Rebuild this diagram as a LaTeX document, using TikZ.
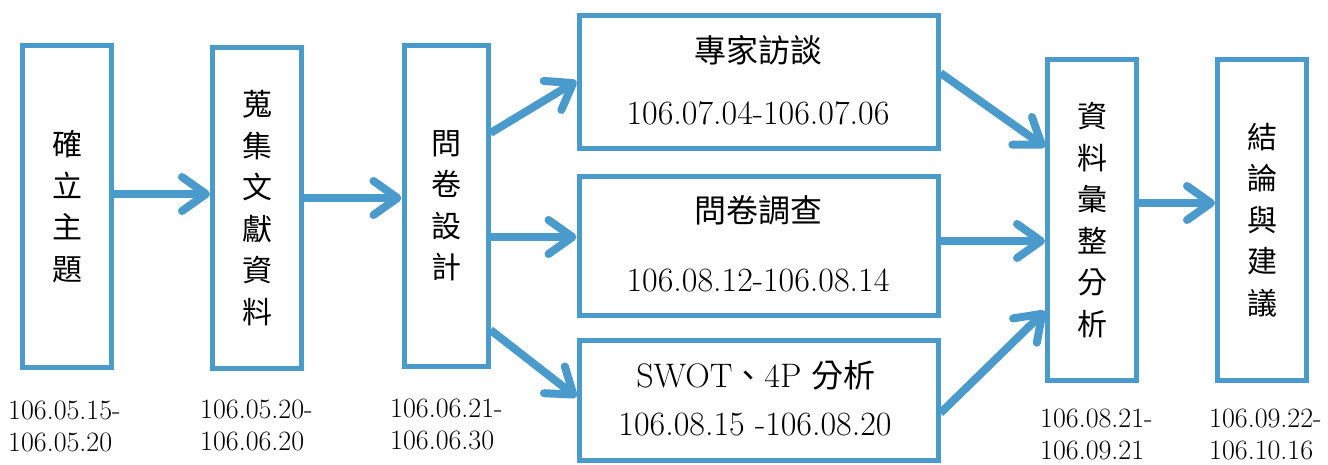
\documentclass[tikz,border=0pt]{standalone}
\usepackage{fontspec}
\newfontfamily\cjk{Noto Sans CJK TC}
\usetikzlibrary{arrows.meta}
\definecolor{flowblue}{HTML}{4A9BCB}
\begin{document}
\begin{tikzpicture}[x=1pt,y=-1pt,
  vbox/.style={draw=flowblue, line width=5pt, fill=white, inner sep=0pt, align=center,
    minimum width=89pt, minimum height=321.5pt, font=\cjk\fontsize{30}{41.5}\selectfont},
  hbox/.style={draw=flowblue, line width=5pt, inner sep=0pt, minimum width=359pt},
  flow/.style={draw=flowblue, line width=8pt, -{Straight Barb[length=24pt,width=34pt,round]}},
  boxtitle/.style={font=\cjk\fontsize{32}{36}\selectfont, inner sep=0pt},
  boxdate/.style={font=\rmfamily\fontsize{34}{38}\selectfont, inner sep=0pt},
  periodlabel/.style={font=\rmfamily\fontsize{28}{32}\selectfont, align=left, anchor=west, inner sep=0pt}]
\useasboundingbox (0,0) rectangle (1328,464);

% vertical boxes
\node[vbox] (a) at (67,206.7) {確\\立\\主\\題};
\node[vbox] (c) at (257,208) {蒐\\集\\文\\獻\\資\\料};
\node[vbox, minimum width=84pt, minimum height=321pt] (q) at (446,205.5) {問\\卷\\設\\計};
\node[vbox] (r) at (1092,220) {資\\料\\彙\\整\\分\\析};
\node[vbox] (s) at (1262,220) {結\\論\\與\\建\\議};

% horizontal boxes
\node[hbox, minimum height=133pt] (t) at (758.5,81.5) {};
\node[hbox, minimum height=139pt] (m) at (758.5,245.5) {};
\node[hbox, minimum height=120pt] (b) at (758.5,400) {};

\node[boxtitle] (t1) at (758,50) {專家訪談};
\node[boxdate] (t2) at (758,113) {106.07.04-106.07.06};
\node[boxtitle] (m1) at (758,210) {問卷調查};
\node[boxdate] (m2) at (758,280) {106.08.12-106.08.14};
\node[boxdate] (b1) at (756,375) {SWOT{\cjk\fontsize{32}{36}\selectfont 、}4P {\cjk\fontsize{32}{36}\selectfont 分析}};
\node[boxdate] (b2) at (755,425) {106.08.15 -106.08.20};

% period labels
\node[periodlabel] (la) at (8,426.5) {106.05.15-\\106.05.20};
\node[periodlabel] (lc) at (200,425) {106.05.20-\\106.06.20};
\node[periodlabel] (lq) at (390,424.5) {106.06.21-\\106.06.30};
\node[periodlabel] (lr) at (1040,434) {106.08.21-\\106.09.21};
\node[periodlabel] (ls) at (1209,434) {106.09.22-\\106.10.16};

% connectors
\draw[flow] (a.east |- 0,194) -- (c.west |- 0,194);
\draw[flow] (c.east |- 0,198) -- (q.west |- 0,198);
\draw[flow] (q.east |- 0,133) -- (t.west |- 0,81);
\draw[flow] (q.east |- 0,237) -- (m.west |- 0,237);
\draw[flow] (q.east |- 0,330) -- (b.west |- 0,397);
\draw[flow] (t.east |- 0,73) -- (r.west |- 0,147);
\draw[flow] (m.east |- 0,241) -- (r.west |- 0,241);
\draw[flow] (b.east |- 0,413) -- (r.west |- 0,311);
\draw[flow] (r.east |- 0,203) -- (s.west |- 0,203);
\end{tikzpicture}
\end{document}
